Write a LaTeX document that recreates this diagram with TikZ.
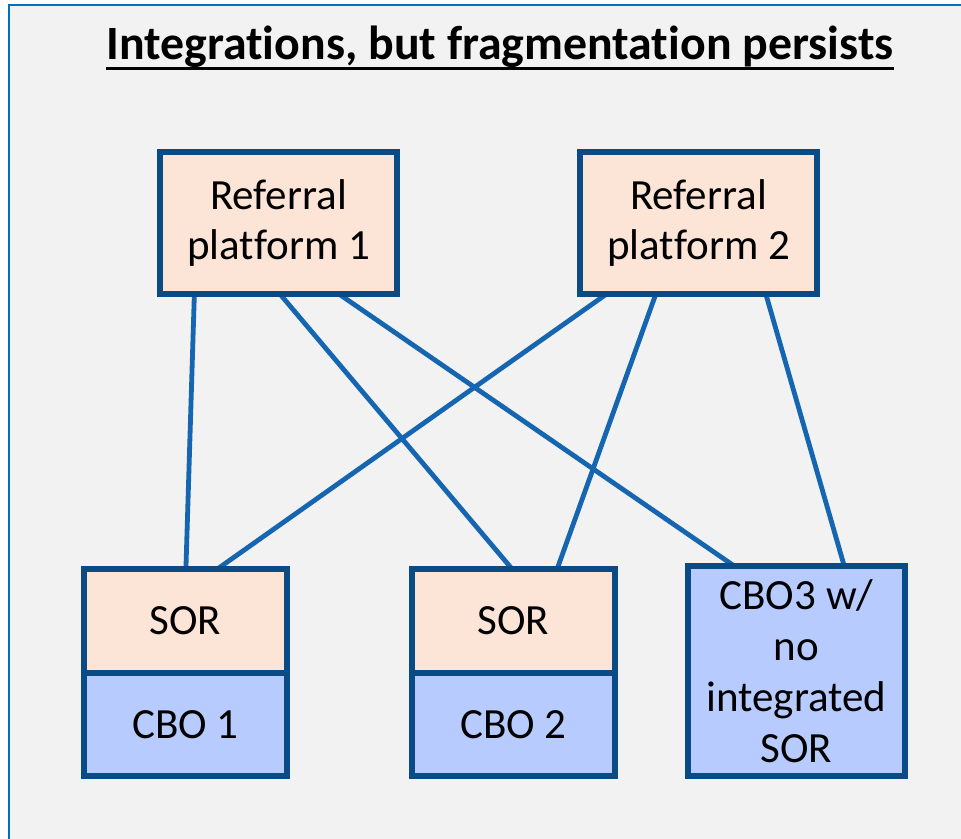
\documentclass[tikz,border=0pt]{standalone}
\usepackage{fontspec}
\setmainfont{Carlito}[Ligatures=NoCommon]
\usetikzlibrary{positioning,calc,backgrounds}
\definecolor{frameblue}{HTML}{0070C0}
\definecolor{panel}{HTML}{F2F2F2}
\definecolor{boxline}{HTML}{0A4A85}
\definecolor{linkblue}{HTML}{1565B0}
\definecolor{peach}{HTML}{FCE4D6}
\definecolor{lavender}{HTML}{B7CBFF}
\begin{document}
\begin{tikzpicture}[x=0.5bp, y=-0.5bp,
  main/.style = {draw=boxline, line width=2.6bp, outer sep=0pt, inner sep=0pt, align=center, font=\fontsize{21.6}{25}\selectfont},
  platform/.style = {main, fill=peach, minimum width=118.5bp, minimum height=71bp},
  sor/.style = {main, fill=peach, minimum width=101.5bp, minimum height=52bp},
  cbo/.style = {main, fill=lavender, minimum width=101.5bp, minimum height=51.5bp},
  link/.style = {draw=linkblue, line width=2.4bp}]
\useasboundingbox (0,0) rectangle (961,839);
\begin{scope}[on background layer]
\clip (0,0) rectangle (961,839);
\fill[white] (0,0) rectangle (961,839);
\draw[frameblue, fill=panel, line width=1bp] (9,5) rectangle (990,870);
\end{scope}
% title
\node[font=\fontsize{24}{28}\selectfont\bfseries, inner sep=0pt, anchor=base] (title) at (500,59) {Integrations, but fragmentation persists};
\draw[line width=1.5bp] ([yshift=-4.6bp]title.base west) -- ([yshift=-4.6bp]title.base east);
% platforms
\node[platform] (rp1) at (278.5,223) {Referral\\platform 1};
\node[platform] (rp2) at (698.5,223) {Referral\\platform 2};
% CBOs
\node[sor] (sor1) at (185.5,621) {SOR};
\node[cbo] (cbo1) [below=0pt of sor1] {CBO 1};
\node[sor] (sor2) at (513.5,621) {SOR};
\node[cbo] (cbo2) [below=0pt of sor2] {CBO 2};
\node[main, fill=lavender, minimum width=108.5bp, minimum height=105bp, font=\fontsize{21.6}{25.5}\selectfont] (cbo3) at (796.5,671) {CBO3 w/\\no\\integrated\\SOR};
% links
\begin{scope}[on background layer]
\draw[link] ($(rp1.south west)!0.145!(rp1.south east)$) -- ($(sor1.north west)!0.502!(sor1.north east)$);
\draw[link] ($(rp1.south west)!0.506!(rp1.south east)$) -- ($(sor2.north west)!0.493!(sor2.north east)$);
\draw[link] ($(rp1.south west)!0.755!(rp1.south east)$) -- ($(cbo3.north west)!0.213!(cbo3.north east)$);
\draw[link] ($(rp2.south west)!0.112!(rp2.south east)$) -- ($(sor1.north west)!0.657!(sor1.north east)$);
\draw[link] ($(rp2.south west)!0.32!(rp2.south east)$) -- ($(sor2.north west)!0.715!(sor2.north east)$);
\draw[link] ($(rp2.south west)!0.784!(rp2.south east)$) -- ($(cbo3.north west)!0.72!(cbo3.north east)$);
\end{scope}
\end{tikzpicture}
\end{document}
